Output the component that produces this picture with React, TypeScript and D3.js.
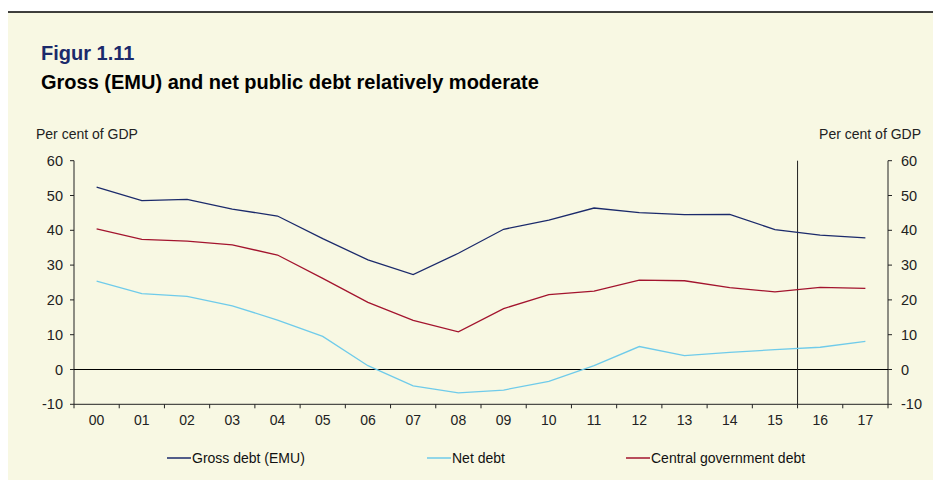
import React from "react";
import * as d3 from "d3";

const years = ["00","01","02","03","04","05","06","07","08","09","10","11","12","13","14","15","16","17"];
const grossDebt = [52.4,48.5,48.9,46.1,44.1,37.6,31.5,27.3,33.4,40.3,42.9,46.4,45.1,44.5,44.6,40.2,38.6,37.8];
const netDebt = [25.4,21.8,21.0,18.3,14.2,9.5,1.1,-4.7,-6.7,-5.9,-3.4,1.1,6.6,4.0,4.9,5.7,6.4,8.1];
const centralDebt = [40.4,37.4,36.9,35.8,32.9,26.2,19.3,14.1,10.8,17.5,21.5,22.5,25.7,25.5,23.5,22.3,23.6,23.3];
const yTicks = [-10,0,10,20,30,40,50,60];
const seriesNames = ["Gross debt (EMU)","Net debt","Central government debt"];
const seriesColors = ["#1B2A6B","#6FCBEA","#A3142E"];

export default function App() {
  const W = 933, H = 480;
  const left = 74, right = 888, top = 160.7, bottom = 404.3;
  const x = d3.scaleBand<string>().domain(years).range([left, right]);
  const y = d3.scaleLinear().domain([-10, 60]).range([bottom, top]);
  const line = d3.line<number>()
    .x((_, i) => (x(years[i]) as number) + x.bandwidth() / 2)
    .y((d) => y(d));
  const series = [grossDebt, netDebt, centralDebt];
  const font = "'Liberation Sans', Arial, sans-serif";
  const splitX = x("16") as number;
  const legendX = [167, 427, 626];
  return (
    <svg width={W} height={H} style={{ position: "absolute", left: 0, top: 0, fontFamily: font }}>
      <rect x={8} y={12} width={W - 8} height={H - 12} fill="#F8F8E3" />
      <line x1={8} x2={W} y1={12} y2={12} stroke="#000" strokeWidth={1.5} />
      <text x={41} y={60} fontSize={20} fontWeight="bold" fill="#1B2A6B">Figur 1.11</text>
      <text x={41} y={89} fontSize={20} fontWeight="bold" fill="#000">Gross (EMU) and net public debt relatively moderate</text>
      <text x={36} y={139} fontSize={14} fill="#222">Per cent of GDP</text>
      <text x={921} y={139} fontSize={14} fill="#222" textAnchor="end">Per cent of GDP</text>
      {/* axes */}
      <line x1={left} x2={left} y1={top} y2={bottom} stroke="#222" />
      <line x1={right} x2={right} y1={top} y2={bottom} stroke="#222" />
      <line x1={left} x2={right} y1={bottom} y2={bottom} stroke="#222" />
      <line x1={left} x2={right} y1={y(0)} y2={y(0)} stroke="#000" strokeWidth={1.2} />
      <line x1={splitX} x2={splitX} y1={top} y2={bottom} stroke="#222" />
      {yTicks.map((t) => (
        <g key={t}>
          <line x1={left - 4} x2={left} y1={y(t)} y2={y(t)} stroke="#222" />
          <line x1={right} x2={right + 4} y1={y(t)} y2={y(t)} stroke="#222" />
          <text x={63} y={y(t) + 5} fontSize={14.5} textAnchor="end" fill="#222">{t}</text>
          <text x={901} y={y(t) + 5} fontSize={14.5} fill="#222">{t}</text>
        </g>
      ))}
      {years.map((yr) => (
        <g key={yr}>
          <line x1={x(yr) as number} x2={x(yr) as number} y1={bottom} y2={bottom + 4} stroke="#222" />
          <text x={(x(yr) as number) + x.bandwidth() / 2} y={425} fontSize={14} textAnchor="middle" fill="#222">{yr}</text>
        </g>
      ))}
      <line x1={right} x2={right} y1={bottom} y2={bottom + 4} stroke="#222" />
      {series.map((s, i) => (
        <path key={i} d={line(s) || ""} fill="none" stroke={seriesColors[i]} strokeWidth={1.3} />
      ))}
      {seriesNames.map((n, i) => (
        <g key={n}>
          <line x1={legendX[i]} x2={legendX[i] + 24} y1={458} y2={458} stroke={seriesColors[i]} strokeWidth={1.5} />
          <text x={legendX[i] + 25} y={463} fontSize={14} fill="#111">{n}</text>
        </g>
      ))}
    </svg>
  );
}
